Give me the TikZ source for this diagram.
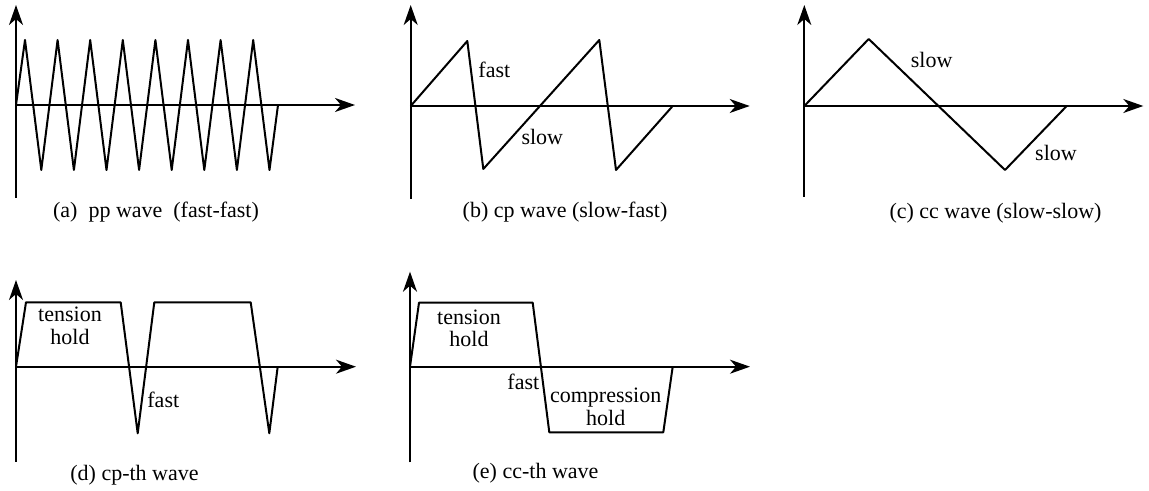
\documentclass[tikz,border=0pt]{standalone}
\usepackage{fontspec}
\setmainfont{Liberation Serif}
\usetikzlibrary{arrows.meta}

\begin{document}
\begin{tikzpicture}[
  x=0.5pt, y=0.5pt,
  axis_ln/.style={line width=0.9pt, -{Stealth[length=10pt, width=7pt, inset=3pt]}},
  wave_ln/.style={line width=1pt, line join=round},
  lbl_txt/.style={inner sep=0pt, font=\fontsize{11}{11.2}\selectfont, align=center}
]
% Coordinates in pixels of the 1149x491 figure; each panel origin sits on its axis crossing.
\def\axW{339}
\def\amp{65}
\useasboundingbox (0,0) rectangle (1149,-491);

% --- Panel A (top-left): pp wave ---
\begin{scope}[shift={(16,-105)}]
  \draw[axis_ln] (0,-93) -- (0,100);
  \draw[axis_ln] (0,0) -- (\axW,0);
  \draw[wave_ln] (0,0) \foreach \k in {0,...,7} { -- ({9+32.6*\k},\amp) -- ({25.3+32.6*\k},-\amp) } -- (262,0);
  \node[lbl_txt] (capA) at (140,-107) {(a)\ \ pp wave\ \ (fast-fast)};
\end{scope}

% --- Panel B (top-center): cp wave ---
\begin{scope}[shift={(410.7,-106)}]
  \draw[axis_ln] (0,-93) -- (0,101);
  \draw[axis_ln] (0,0) -- (\axW,0);
  \draw[wave_ln] (0,0) -- (56.6,\amp) -- (72.6,-63) -- (188.6,66) -- (205.3,-64) -- (262,0);
  \node[lbl_txt] (fastB) at (83.6,36) {fast};
  \node[lbl_txt] (slowB) at (131.6,-31.3) {slow};
  \node[lbl_txt] (capB) at (154.3,-106) {(b) cp wave (slow-fast)};
\end{scope}

% --- Panel C (top-right): cc wave ---
\begin{scope}[shift={(804.3,-106)}]
  \draw[axis_ln] (0,-91) -- (0,101);
  \draw[axis_ln] (0,0) -- (\axW,0);
  \draw[wave_ln] (0,0) -- (64.4,67) -- (200.7,-64) -- (262.4,0);
  \node[lbl_txt] (slowCa) at (127.4,46) {slow};
  \node[lbl_txt] (slowCb) at (251.7,-47.3) {slow};
  \node[lbl_txt] (capC) at (191.2,-107) {(c) cc wave (slow-slow)};
\end{scope}

% --- Panel D (bottom-left): cp-th wave ---
\begin{scope}[shift={(16,-366.7)}]
  \draw[axis_ln] (0,-95) -- (0,86.7);
  \draw[axis_ln] (0,0) -- (340,0);
  \draw[wave_ln] (0,0) -- (10,64.4) -- (104.7,64.4) -- (121.7,-66.6) -- (138.3,64.4)
    -- (234.7,64.4) -- (253.3,-66.6) -- (261.7,0);
  \node[lbl_txt] (holdD) at (54,40.8) {tension\\hold};
  \node[lbl_txt] (fastD) at (147.3,-33.3) {fast};
  \node[lbl_txt] (capD) at (118.5,-108.3) {(d) cp-th wave};
\end{scope}

% --- Panel E (bottom-center): cc-th wave ---
\begin{scope}[shift={(410,-366.7)}]
  \draw[axis_ln] (0,-95.6) -- (0,95);
  \draw[axis_ln] (0,0) -- (340,0);
  \draw[wave_ln] (0,0) -- (9,64) -- (122.7,64) -- (139.3,-65.6) -- (253.3,-65.6) -- (262.7,0);
  \node[lbl_txt] (holdE) at (59,38.4) {tension\\hold};
  \node[lbl_txt] (fastE) at (113.3,-15) {fast};
  \node[lbl_txt] (compE) at (195.7,-40.3) {compression\\hold};
  \node[lbl_txt] (capE) at (125.5,-106.6) {(e) cc-th wave};
\end{scope}

\end{tikzpicture}
\end{document}
